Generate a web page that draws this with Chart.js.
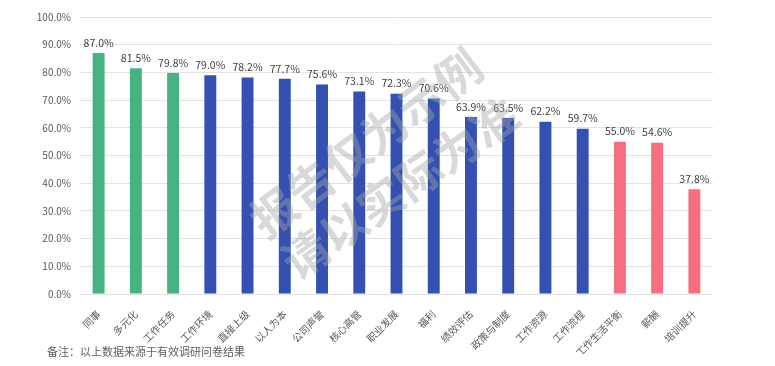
<!DOCTYPE html>
<html>
<head>
<meta charset="utf-8">
<script src="https://cdn.jsdelivr.net/npm/chart.js@4/dist/chart.umd.min.js"></script>
<style>
html,body{margin:0;padding:0;background:#fff;}
#wrap{position:relative;width:775px;height:366px;}
</style>
</head>
<body>
<div id="wrap"><canvas id="c" width="775" height="366"></canvas></div>
<script>
const categories = ["同事","多元化","工作任务","工作环境","直接上级","以人为本","公司声誉","核心高管","职业发展","福利","绩效评估","政策与制度","工作资源","工作流程","工作生活平衡","薪酬","培训提升"];
const values = [87.0,81.5,79.8,79.0,78.2,77.7,75.6,73.1,72.3,70.6,63.9,63.5,62.2,59.7,55.0,54.6,37.8];
const groups = ["g","g","g","b","b","b","b","b","b","b","b","b","b","b","r","r","r"];
const yTicks = [0,10,20,30,40,50,60,70,80,90,100];
const footnote = "备注：以上数据来源于有效调研问卷结果";
const watermarkLines = ["报告仅为示例","请以实际为准"];

const palette = {g:"#47B282", b:"#3451B2", r:"#F56F80"};
const FONT = "'Noto Sans CJK SC','Noto Sans',sans-serif";

const labelPlugin = {
  id:"vlabels",
  afterDatasetsDraw(chart){
    const ctx = chart.ctx;
    const meta = chart.getDatasetMeta(0);
    ctx.save();
    ctx.font = "10.5px " + FONT;
    ctx.fillStyle = "#404040";
    ctx.textAlign = "center";
    ctx.textBaseline = "bottom";
    meta.data.forEach((bar,i)=>{
      ctx.fillText(values[i].toFixed(1)+"%", bar.x, bar.y-5);
    });
    ctx.restore();
  }
};
const extraPlugin = {
  id:"extra",
  afterDraw(chart){
    const ctx = chart.ctx;
    ctx.save();
    ctx.fillStyle = "rgba(165,165,165,0.42)";
    ctx.font = "bold 46px " + FONT;
    ctx.textAlign = "center";
    ctx.textBaseline = "middle";
    ctx.save();
    ctx.translate(366,143);
    ctx.rotate(-37*Math.PI/180);
    ctx.fillText(watermarkLines[0], 0, 0);
    ctx.restore();
    ctx.save();
    ctx.translate(400,188);
    ctx.rotate(-35*Math.PI/180);
    ctx.fillText(watermarkLines[1], 0, 0);
    ctx.restore();
    ctx.restore();
    ctx.save();
    ctx.font = "11px " + FONT;
    ctx.fillStyle = "#606060";
    ctx.textAlign = "left";
    ctx.textBaseline = "middle";
    ctx.fillText(footnote, 47, 352);
    ctx.restore();
  }
};

new Chart(document.getElementById("c"), {
  type:"bar",
  data:{
    labels:categories,
    datasets:[{
      data:values,
      backgroundColor:groups.map(g=>palette[g]),
      barPercentage:0.32,
      categoryPercentage:1.0
    }]
  },
  options:{
    responsive:false,
    animation:false,
    events:[],
    layout:{padding:{left:0,right:62,top:17,bottom:12}},
    plugins:{legend:{display:false},tooltip:{enabled:false}},
    scales:{
      x:{
        grid:{display:false},
        border:{display:false},
        ticks:{
          color:"#595959",
          font:{size:10,family:FONT},
          maxRotation:45,minRotation:45,
          autoSkip:false,
          padding:6
        },
        afterFit(s){ s.height = 60; }
      },
      y:{
        min:0,max:100,
        afterBuildTicks(s){ s.ticks = yTicks.map(v=>({value:v})); },
        grid:{color:"#E3E3E3",drawTicks:false,lineWidth:1},
        border:{display:false},
        ticks:{
          color:"#595959",
          font:{size:10,family:FONT},
          padding:9,
          callback:v=>v.toFixed(1)+"%"
        },
        afterFit(s){ s.width = 80; }
      }
    }
  },
  plugins:[labelPlugin, extraPlugin]
});
</script>
</body>
</html>
